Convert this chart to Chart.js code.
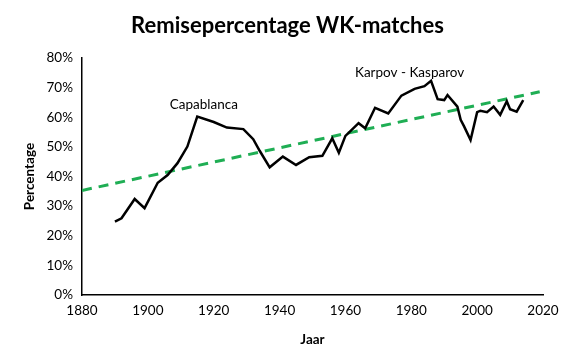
<!DOCTYPE html>
<html>
<head>
<meta charset="utf-8">
<script src="https://cdn.jsdelivr.net/npm/chart.js@4"></script>
<style>
  html, body { margin: 0; padding: 0; background: #fff; }
  #wrap { width: 575px; height: 364px; }
</style>
</head>
<body>
<div id="wrap"><canvas id="myChart" width="575" height="364"></canvas></div>
<script>
const years = [1890, 1892, 1896, 1899, 1903, 1906, 1909, 1912, 1915, 1920, 1924, 1929, 1932, 1934, 1937, 1941, 1945, 1949, 1953, 1956, 1958, 1960, 1964, 1966, 1969, 1973, 1977, 1981, 1984, 1986, 1988, 1990, 1991, 1994, 1995, 1996, 1998, 2000, 2001, 2003, 2005, 2007, 2009, 2010, 2012, 2014];
const drawPct = [24.8, 25.9, 32.4, 29.3, 37.9, 40.5, 44.5, 50.1, 60.2, 58.4, 56.5, 56.0, 52.6, 48.6, 43.1, 46.7, 43.9, 46.5, 47.0, 52.9, 48.0, 53.7, 58.0, 56.3, 63.2, 61.3, 67.3, 69.6, 70.5, 72.3, 66.1, 65.8, 67.5, 63.6, 59.1, 57.0, 52.3, 61.7, 62.2, 61.7, 63.6, 60.8, 65.4, 62.7, 61.9, 65.8];
const trendYears = [1880, 2019];
const trendPct = [35.3, 68.6];
const notes = [
  { text: "Capablanca", year: 1917, pct: 64.1 },
  { text: "Karpov - Kasparov", year: 1979.5, pct: 74.9 }
];
const chartTitle = "Remisepercentage WK-matches";

const font = "Lato, 'Open Sans', sans-serif";

// title centred on the whole canvas, plus the two text notes
const textPlugin = {
  id: "texts",
  afterDraw(chart) {
    const ctx = chart.ctx;
    const xs = chart.scales.x, ys = chart.scales.y;
    ctx.save();
    ctx.fillStyle = "#000";
    ctx.textAlign = "center";
    ctx.font = "bold 22px " + font;
    ctx.textBaseline = "alphabetic";
    ctx.fillText(chartTitle, chart.width / 2, 33);
    ctx.font = "13.5px " + font;
    ctx.textBaseline = "middle";
    notes.forEach(n => ctx.fillText(n.text, xs.getPixelForValue(n.year), ys.getPixelForValue(n.pct)));
    ctx.restore();
  }
};

const data = {
  datasets: [
    {
      label: "Remise",
      data: years.map((y, i) => ({ x: y, y: drawPct[i] })),
      borderColor: "#000",
      borderWidth: 2.5,
      pointRadius: 0,
      tension: 0,
    },
    {
      label: "Trend",
      data: trendYears.map((y, i) => ({ x: y, y: trendPct[i] })),
      borderColor: "#1fae54",
      borderWidth: 3,
      borderDash: [10, 7],
      pointRadius: 0,
    },
  ],
};

const config = {
  type: "line",
  data: data,
  options: {
    responsive: false,
    animation: false,
    layout: { padding: { top: 58, right: 32, left: 0, bottom: 0 } },
    scales: {
      x: {
        type: "linear",
        min: 1880,
        max: 2020,
        grid: { display: false, drawTicks: true, tickLength: 5, color: "#000" },
        border: { color: "#000", width: 1.5 },
        ticks: {
          stepSize: 20,
          color: "#000",
          font: { size: 13.5, family: font },
          padding: 3,
          maxRotation: 0,
          callback: v => String(v),
        },
        title: { display: true, text: "Jaar", color: "#000", font: { size: 13.5, weight: "bold", family: font }, padding: { top: 0, bottom: 16 } },
        afterFit: s => { s.height = 69; },
      },
      y: {
        min: 0,
        max: 80,
        grid: { display: false, drawTicks: true, tickLength: 5, color: "#000" },
        border: { color: "#000", width: 1.5 },
        ticks: {
          stepSize: 10,
          color: "#000",
          font: { size: 13.5, family: font },
          padding: 4,
          callback: v => v + "%",
        },
        title: { display: true, text: "Percentage", color: "#000", font: { size: 13.5, weight: "bold", family: font }, padding: { top: 22, bottom: 0 } },
        afterFit: s => { s.width = 82; },
      },
    },
    plugins: {
      legend: { display: false },
      tooltip: { enabled: false },
      title: { display: false },
    },
  },
  plugins: [textPlugin],
};

const myChart = new Chart(document.getElementById("myChart"), config);
</script>
</body>
</html>
